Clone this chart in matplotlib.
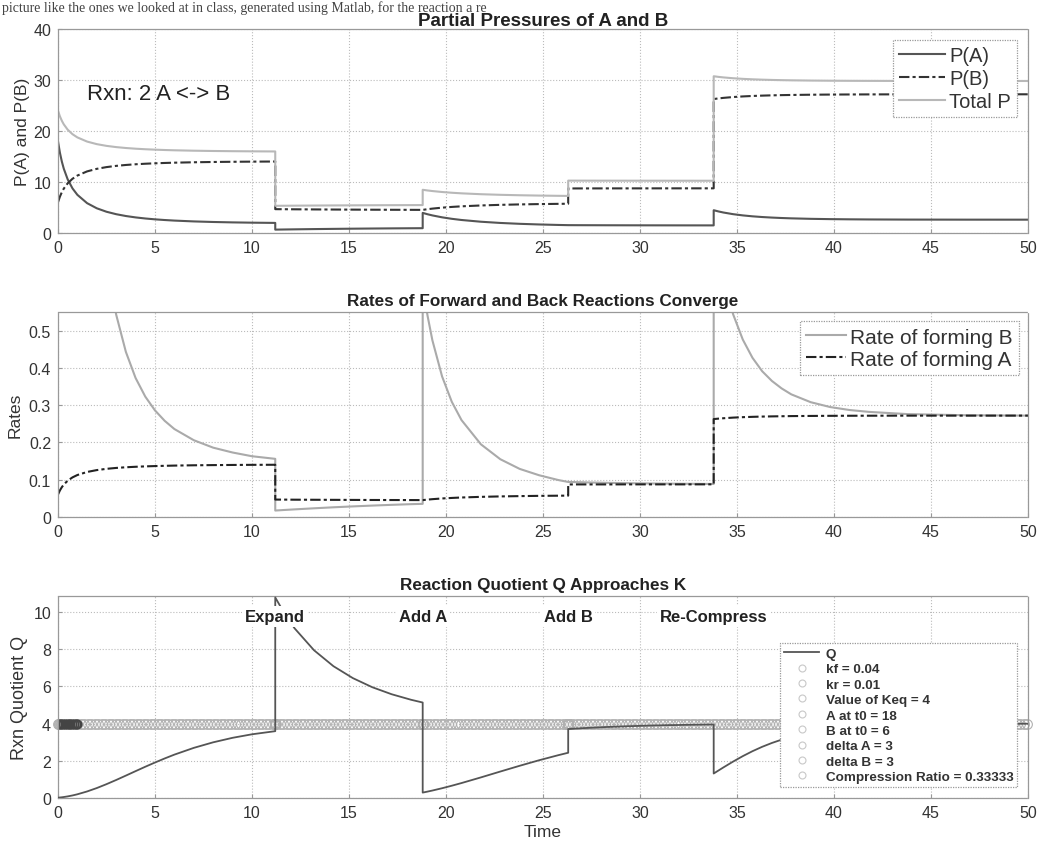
import numpy as np
import matplotlib
matplotlib.use("Agg")
import matplotlib.pyplot as plt
from matplotlib.lines import Line2D

plt.rcParams['font.family'] = ['Liberation Sans', 'DejaVu Sans']

# time samples (event times appear twice so the steps are vertical)
t = [0, 0.1, 0.2, 0.3, 0.5, 0.75, 1, 1.5, 2, 2.5, 3, 3.5, 4, 4.5, 5, 5.5, 6, 7, 8, 9, 10, 11.2,
     11.2, 11.7, 12.2, 13.2, 14.2, 15.2, 16.2, 17.2, 18.2, 18.8,
     18.8, 19.05, 19.3, 19.8, 20.3, 20.8, 21.8, 22.8, 23.8, 24.8, 25.8, 26.3,
     26.3, 26.8, 27.3, 28.3, 29.3, 30.3, 31.3, 32.3, 33.8,
     33.8, 34.05, 34.3, 34.8, 35.3, 35.8, 36.3, 36.8, 37.3, 37.8, 38.8, 39.8, 40.8, 41.8, 43.8, 46.8, 50]

p_a = [18.0, 15.746, 13.998, 12.603, 10.520, 8.734, 7.482, 5.851, 4.843, 4.165, 3.683, 3.326, 3.054, 2.843,
       2.675, 2.541, 2.431, 2.268, 2.156, 2.077, 2.021, 1.975,
       0.658, 0.687, 0.714, 0.763, 0.805, 0.843, 0.875, 0.903, 0.927, 0.939,
       3.939, 3.673, 3.444, 3.070, 2.779, 2.548, 2.206, 1.968, 1.797, 1.670, 1.574, 1.535,
       1.535, 1.528, 1.523, 1.513, 1.506, 1.500, 1.496, 1.492, 1.488,
       4.465, 4.220, 4.014, 3.689, 3.448, 3.266, 3.127, 3.020, 2.936, 2.869, 2.775, 2.716, 2.678, 2.653,
       2.627, 2.613, 2.609]

p_b = [6.0, 7.127, 8.001, 8.699, 9.740, 10.633, 11.259, 12.075, 12.579, 12.918, 13.159, 13.337, 13.473, 13.579,
       13.663, 13.730, 13.785, 13.866, 13.922, 13.962, 13.990, 14.013,
       4.671, 4.657, 4.643, 4.619, 4.597, 4.579, 4.562, 4.549, 4.537, 4.530,
       4.530, 4.664, 4.778, 4.965, 5.110, 5.226, 5.397, 5.516, 5.602, 5.665, 5.713, 5.733,
       8.733, 8.736, 8.739, 8.744, 8.747, 8.750, 8.752, 8.754, 8.756,
       26.267, 26.390, 26.493, 26.656, 26.776, 26.867, 26.936, 26.990, 27.032, 27.065, 27.112, 27.142,
       27.161, 27.174, 27.187, 27.194, 27.196]

p_total = [24.0, 22.873, 21.999, 21.302, 20.260, 19.367, 18.741, 17.926, 17.422, 17.083, 16.842, 16.663, 16.527,
           16.421, 16.338, 16.270, 16.216, 16.134, 16.078, 16.039, 16.011, 15.987,
           5.329, 5.343, 5.357, 5.381, 5.403, 5.421, 5.438, 5.452, 5.463, 5.470,
           8.470, 8.337, 8.222, 8.035, 7.890, 7.774, 7.603, 7.484, 7.399, 7.335, 7.287, 7.267,
           10.267, 10.264, 10.261, 10.257, 10.253, 10.250, 10.248, 10.246, 10.244,
           30.733, 30.610, 30.507, 30.344, 30.224, 30.133, 30.064, 30.010, 29.968, 29.935, 29.888, 29.858,
           29.839, 29.827, 29.813, 29.807, 29.805]

rate_fwd = [12.96, 9.917, 7.838, 6.353, 4.427, 3.051, 2.239, 1.369, 0.938, 0.694, 0.543, 0.443, 0.373, 0.323,
            0.286, 0.258, 0.236, 0.206, 0.186, 0.173, 0.163, 0.156,
            0.0173, 0.0189, 0.0204, 0.0233, 0.0260, 0.0284, 0.0306, 0.0326, 0.0344, 0.0353,
            0.621, 0.540, 0.474, 0.377, 0.309, 0.260, 0.195, 0.155, 0.129, 0.112, 0.099, 0.094,
            0.0942, 0.0934, 0.0927, 0.0916, 0.0907, 0.0900, 0.0895, 0.0891, 0.0886,
            0.798, 0.712, 0.644, 0.544, 0.476, 0.427, 0.391, 0.365, 0.345, 0.329, 0.308, 0.295, 0.287,
            0.282, 0.276, 0.273, 0.272]

rate_rev = [0.0600, 0.0713, 0.0800, 0.0870, 0.0974, 0.1063, 0.1126, 0.1208, 0.1258, 0.1292, 0.1316, 0.1334,
            0.1347, 0.1358, 0.1366, 0.1373, 0.1379, 0.1387, 0.1392, 0.1396, 0.1399, 0.1401,
            0.0467, 0.0466, 0.0464, 0.0462, 0.0460, 0.0458, 0.0456, 0.0455, 0.0454, 0.0453,
            0.0453, 0.0466, 0.0478, 0.0497, 0.0511, 0.0523, 0.0540, 0.0552, 0.0560, 0.0567, 0.0571, 0.0573,
            0.0873, 0.0874, 0.0874, 0.0874, 0.0875, 0.0875, 0.0875, 0.0875, 0.0876,
            0.2627, 0.2639, 0.2649, 0.2666, 0.2678, 0.2687, 0.2694, 0.2699, 0.2703, 0.2707, 0.2711, 0.2714,
            0.2716, 0.2717, 0.2719, 0.2719, 0.2720]

q = [0.019, 0.029, 0.041, 0.055, 0.088, 0.139, 0.201, 0.353, 0.536, 0.745, 0.970, 1.206, 1.445, 1.681,
     1.909, 2.127, 2.333, 2.696, 2.995, 3.237, 3.426, 3.594,
     10.782, 9.874, 9.118, 7.942, 7.086, 6.446, 5.957, 5.579, 5.282, 5.134,
     0.292, 0.346, 0.403, 0.527, 0.662, 0.805, 1.109, 1.424, 1.734, 2.031, 2.306, 2.434,
     3.708, 3.741, 3.770, 3.819, 3.858, 3.888, 3.913, 3.931, 3.952,
     1.318, 1.482, 1.645, 1.959, 2.252, 2.518, 2.754, 2.960, 3.137, 3.288, 3.520, 3.680, 3.788,
     3.860, 3.940, 3.983, 3.996]

keq = 4
event_times = [11.2, 18.8, 26.3, 33.8]
event_labels = ['Expand', 'Add A', 'Add B', 'Re-Compress']
param_labels = ['kf = 0.04', 'kr = 0.01', 'Value of Keq = 4', 'A at t0 = 18', 'B at t0 = 6',
                'delta A = 3', 'delta B = 3', 'Compression Ratio = 0.33333']

# solver output times where the Keq markers sit (dense at the start and at each event)
keq_t = np.concatenate([np.linspace(0, 1.0, 30), np.arange(1.0, 50.01, 0.18),
                        np.repeat(event_times[:3], 6)])

fig = plt.figure(figsize=(10.37, 8.45), dpi=100)
fig.patch.set_facecolor('white')

fig.text(0.002, 1 - 1 / 845,
         'picture like the ones we looked at in class, generated using Matlab, for the reaction a re',
         family='Liberation Serif', fontsize=10, color='#444444', va='top', ha='left')

ax1 = fig.add_axes([0.0559, 0.7231, 0.9354, 0.2414])
ax2 = fig.add_axes([0.0559, 0.3870, 0.9354, 0.2426])
ax3 = fig.add_axes([0.0559, 0.0544, 0.9354, 0.2391])

tick_col = '#333333'
lab_col = '#333333'
for ax in (ax1, ax2, ax3):
    ax.set_xlim(0, 50)
    ax.set_xticks(np.arange(0, 51, 5))
    ax.grid(True, linestyle=':', color='#bbbbbb', linewidth=0.8)
    ax.tick_params(direction='in', length=3, pad=5, colors='#999999', labelcolor=tick_col, labelsize=11.5)
    for s in ax.spines.values():
        s.set_color('#999999')
        s.set_linestyle((0, (1, 1)))
        s.set_linewidth(0.9)

dash_dot = (0, (5, 1.5, 1.5, 1.5))

# 1. Partial pressures
ax1.plot(t, p_a, color='#555555', linewidth=1.5, label='P(A)')
ax1.plot(t, p_b, color='#333333', linewidth=1.5, linestyle=dash_dot, label='P(B)')
ax1.plot(t, p_total, color='#b8b8b8', linewidth=1.5, label='Total P')
ax1.set_ylim(0, 40)
ax1.set_yticks([0, 10, 20, 30, 40])
ax1.set_title('Partial Pressures of A and B', fontsize=13.5, fontweight='bold', color='#222222', pad=3)
ax1.set_ylabel('P(A) and P(B)', fontsize=12.5, color=lab_col, labelpad=2)
ax1.text(1.5, 27.3, 'Rxn: 2 A <-> B', fontsize=16, color='#222222', va='center')
leg1 = ax1.legend(loc='upper right', fontsize=14.5, handlelength=2.3, handletextpad=0.2,
                  borderaxespad=0.55, labelspacing=0.2, fancybox=False, borderpad=0.3)

# 2. Rates
ax2.plot(t, rate_fwd, color='#aaaaaa', linewidth=1.5, label='Rate of forming B')
ax2.plot(t, rate_rev, color='#222222', linewidth=1.5, linestyle=dash_dot, label='Rate of forming A')
ax2.set_ylim(0, 0.55)
ax2.set_yticks([0, 0.1, 0.2, 0.3, 0.4, 0.5])
ax2.set_yticklabels(['0', '0.1', '0.2', '0.3', '0.4', '0.5'])
ax2.set_title('Rates of Forward and Back Reactions Converge', fontsize=12.3, fontweight='bold',
              color='#222222', pad=5)
ax2.set_ylabel('Rates', fontsize=12.5, color=lab_col, labelpad=4)
leg2 = ax2.legend(loc='upper right', fontsize=15, handlelength=1.9, handletextpad=0.2,
                  borderaxespad=0.45, labelspacing=0.15, fancybox=False, borderpad=0.3)

# 3. Reaction quotient
ax3.plot(keq_t, np.full(len(keq_t), keq), linestyle='none', marker='o', markersize=7,
         markerfacecolor='none', markeredgecolor='#b0b0b0', markeredgewidth=0.8, clip_on=False, zorder=2)
ax3.plot(np.linspace(0, 1.0, 12), np.full(12, keq), linestyle='none', marker='o', markersize=6,
         markerfacecolor='none', markeredgecolor='#444444', markeredgewidth=1.2, zorder=2)
ax3.plot(t, q, color='#555555', linewidth=1.3, zorder=3)
for et, lab in zip(event_times, event_labels):
    ax3.text(et, 9.75, lab, ha='center', va='center', fontsize=12, fontweight='bold', color='#222222',
             zorder=5, bbox=dict(facecolor='white', edgecolor='none', pad=2))
ax3.set_ylim(0, 10.86)
ax3.set_yticks([0, 2, 4, 6, 8, 10])
ax3.set_title('Reaction Quotient Q Approaches K', fontsize=12.3, fontweight='bold', color='#222222', pad=5)
ax3.set_ylabel('Rxn Quotient Q', fontsize=13, color=lab_col, labelpad=4)
ax3.set_xlabel('Time', fontsize=12.5, color=lab_col, labelpad=3)

handles = [Line2D([], [], color='#555555', linewidth=1.3)]
for _ in param_labels:
    handles.append(Line2D([], [], linestyle='none', marker='o', markersize=5,
                          markerfacecolor='none', markeredgecolor='#c8c8c8', markeredgewidth=0.8))
leg3 = ax3.legend(handles, ['Q'] + param_labels, loc='lower right', bbox_to_anchor=(0.989, 0.054),
                  borderaxespad=0, handlelength=2.6, handletextpad=0.45,
                  labelspacing=0.22, fancybox=False, borderpad=0.3, prop={'weight': 'bold', 'size': 9.7})
for txt in leg3.get_texts():
    txt.set_color('#333333')

for leg in (leg1, leg2, leg3):
    fr = leg.get_frame()
    fr.set_edgecolor('#999999')
    fr.set_linestyle((0, (1, 1)))
    fr.set_linewidth(0.9)
    fr.set_alpha(1)
for leg in (leg1, leg2):
    for txt in leg.get_texts():
        txt.set_color('#333333')

fig.savefig('out.png', dpi=100)
